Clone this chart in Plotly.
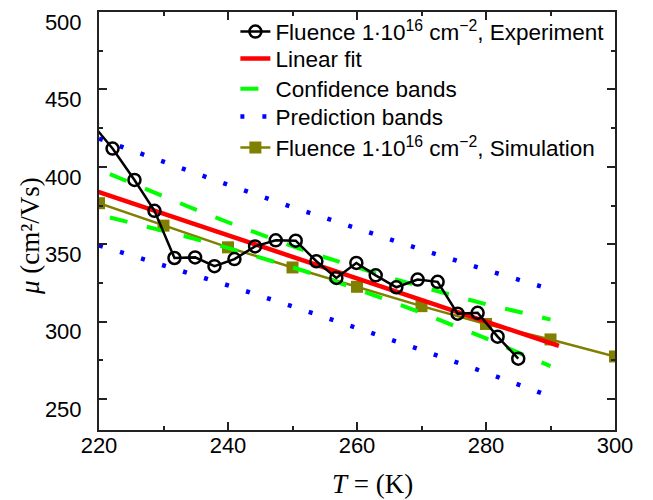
import plotly.graph_objects as go

# ---- data ----
x_exp = [218.9, 222.1, 225.5, 228.6, 231.7, 234.9, 237.9, 241.0, 244.2, 247.4, 250.5,
         253.7, 256.8, 259.9, 262.9, 266.1, 269.4, 272.5, 275.6, 278.7, 281.8, 285.0]
y_exp = [428.0, 411.8, 391.5, 371.6, 341.1, 341.5, 335.8, 340.4, 348.6, 352.5, 352.3,
         339.0, 328.2, 337.9, 329.9, 322.2, 327.2, 325.7, 305.1, 305.7, 290.3, 276.1]

x_fit = [218.9, 291.3]
y_fit = [385.2, 284.3]

x_conf = [221.7, 225, 230, 235, 240, 245, 250, 255, 260, 265, 270, 275, 280, 285, 290]
y_conf_up = [395.3, 389.5, 381.0, 372.3, 364.2, 356.3, 348.7, 341.6, 334.9, 328.5,
             322.5, 316.7, 311.2, 306.4, 301.3]
y_conf_lo = [367.3, 363.9, 358.6, 353.3, 347.6, 341.5, 335.1, 328.4, 321.1, 313.5,
             305.7, 297.5, 289.2, 280.0, 271.3]

x_pred = [220, 230, 240, 250, 260, 270, 280, 290]
y_pred_up = [418.2, 403.1, 388.4, 373.9, 360.0, 346.5, 333.4, 320.9]
y_pred_lo = [349.2, 336.5, 323.4, 309.9, 296.0, 281.7, 267.0, 251.7]

x_sim = [220, 230, 240, 250, 260, 270, 280, 290, 300]
y_sim = [376.5, 362.0, 348.0, 335.0, 322.5, 310.0, 298.5, 288.5, 277.5]

x_ticks = [220, 240, 260, 280, 300]
y_ticks = [250, 300, 350, 400, 450, 500]

name_exp = "Fluence 1∙10<sup>16</sup> cm<sup>−2</sup>, Experiment"
name_fit = "Linear fit"
name_conf = "Confidence bands"
name_pred = "Prediction bands"
name_sim = "Fluence 1∙10<sup>16</sup> cm<sup>−2</sup>, Simulation"

BLUE = "#0000FF"
GREEN = "#00FF00"
RED = "#FF0000"
OLIVE = "#808000"
AXC = "#222222"

fig = go.Figure()

# prediction bands
fig.add_trace(go.Scatter(x=x_pred, y=y_pred_up, mode="lines", name=name_pred,
                         line=dict(color=BLUE, width=4.5, dash="4px,18px"),
                         legend="legend4"))
fig.add_trace(go.Scatter(x=x_pred, y=y_pred_lo, mode="lines", name=name_pred,
                         line=dict(color=BLUE, width=4.5, dash="4px,18px"),
                         showlegend=False, legend="legend4"))
# simulation
fig.add_trace(go.Scatter(x=x_sim, y=y_sim, mode="lines+markers", name=name_sim,
                         line=dict(color=OLIVE, width=2.5),
                         marker=dict(symbol="square", size=12, color=OLIVE),
                         legend="legend5"))
# confidence bands
fig.add_trace(go.Scatter(x=x_conf, y=y_conf_up, mode="lines", name=name_conf,
                         line=dict(color=GREEN, width=4, dash="18px,20px"),
                         legend="legend3"))
fig.add_trace(go.Scatter(x=x_conf, y=y_conf_lo, mode="lines", name=name_conf,
                         line=dict(color=GREEN, width=4, dash="18px,20px"),
                         showlegend=False, legend="legend3"))
# linear fit
fig.add_trace(go.Scatter(x=x_fit, y=y_fit, mode="lines", name=name_fit,
                         line=dict(color=RED, width=4.5), legend="legend2"))
# experiment
fig.add_trace(go.Scatter(x=x_exp, y=y_exp, mode="lines+markers", name=name_exp,
                         line=dict(color="black", width=2.5),
                         marker=dict(symbol="circle-open", size=12, color="black",
                                     line=dict(width=2.5, color="black")),
                         showlegend=True, legend="legend"))

axis_common = dict(
    showline=True, linecolor=AXC, linewidth=2, mirror="allticks",
    ticks="inside", ticklen=8, tickwidth=2, tickcolor=AXC,
    showgrid=False, zeroline=False,
    tickfont=dict(family="Liberation Sans, Arial", size=22, color="black"),
)

fig.update_xaxes(range=[220, 300], tickmode="array", tickvals=x_ticks,
                 ticklabelstandoff=-5,
                 minor=dict(dtick=10, tick0=220, ticks="inside", ticklen=4, tickwidth=2,
                            tickcolor=AXC),
                 **axis_common)
fig.update_yaxes(range=[230, 500], tickmode="array", tickvals=y_ticks,
                 ticklabelshift=10, ticklabelstandoff=11,
                 minor=dict(dtick=25, tick0=250, ticks="inside", ticklen=4, tickwidth=2,
                            tickcolor=AXC),
                 **axis_common)

fig.add_annotation(text="<i>μ</i> (cm²/Vs)", xref="paper", yref="paper",
                   x=-0.1337, y=0.464, xanchor="center", yanchor="middle",
                   textangle=-90, showarrow=False,
                   font=dict(family="Liberation Serif, Times New Roman", size=27, color="black"))
fig.add_annotation(text="<i>T</i> = (K)", xref="paper", yref="paper",
                   x=0.531, y=-0.1286, xanchor="center", yanchor="middle",
                   showarrow=False,
                   font=dict(family="Liberation Serif, Times New Roman", size=27, color="black"))

legend_font = dict(family="Liberation Sans, Arial", size=22.5, color="black")
legend_x = 0.2643
legend_rows = [0.9523, 0.888, 0.8156, 0.749, 0.6747]


def leg(yv):
    return dict(x=legend_x, y=yv, xanchor="left", yanchor="middle", visible=True,
                bgcolor="rgba(0,0,0,0)", borderwidth=0, font=legend_font)


fig.update_layout(
    width=645, height=492,
    margin=dict(l=91, r=38, t=2, b=70),
    paper_bgcolor="white", plot_bgcolor="white",
    showlegend=True,
    legend=leg(legend_rows[0]),
    legend2=leg(legend_rows[1]),
    legend3=leg(legend_rows[2]),
    legend4=leg(legend_rows[3]),
    legend5=leg(legend_rows[4]),
)

fig.write_html("out.html")
